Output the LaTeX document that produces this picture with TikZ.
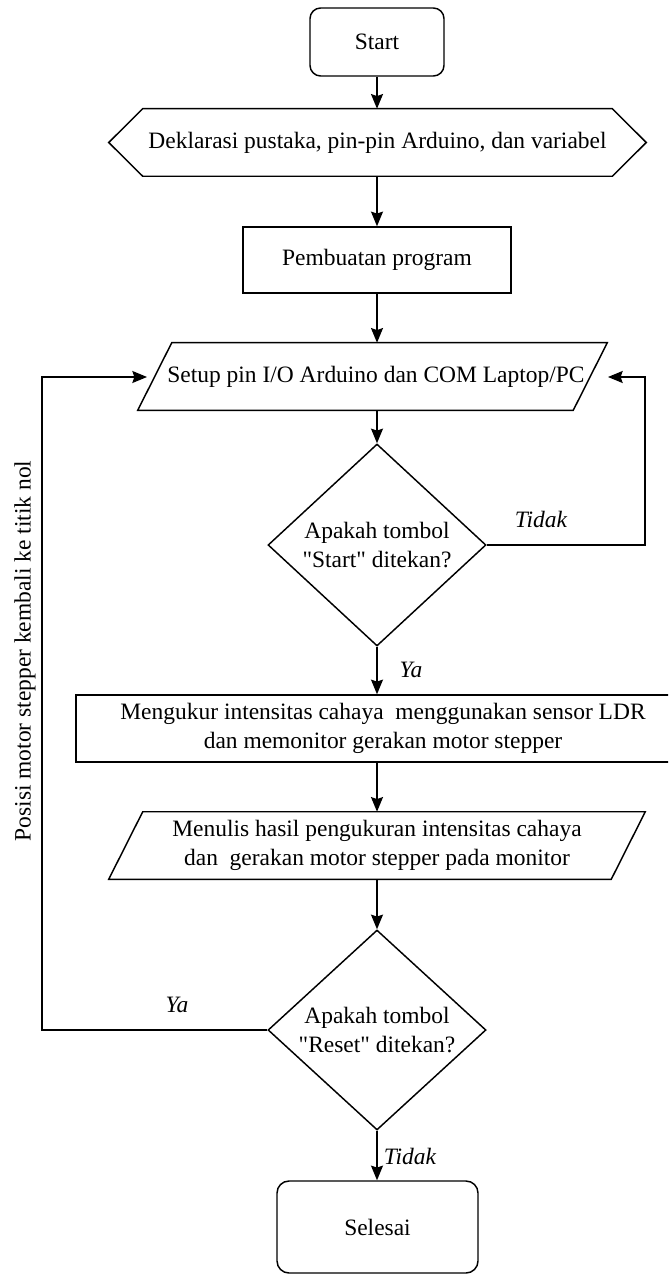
\documentclass[tikz,border=0pt]{standalone}
\usepackage{fontspec}
\setmainfont{Liberation Serif}
\usetikzlibrary{arrows.meta,calc,shapes.geometric}
\begin{document}
\begin{tikzpicture}[x=0.75pt,y=-0.75pt,
  every node/.style={font=\fontsize{17.6}{21.8}\selectfont, align=center, inner sep=0pt},
  arr/.style={line width=1.1pt, -{Stealth[length=11pt,width=9pt,inset=1.5pt]}},
  termbox/.style={draw, line width=1.1pt, rounded corners=8pt, rectangle},
  procbox/.style={draw, line width=1.1pt, rectangle},
  ghost/.style={rectangle},
  decbox/.style={draw, line width=1.1pt, diamond, minimum width=163.5pt},
  lbl/.style={font=\fontsize{17.6}{21.8}\selectfont\itshape}
]
\useasboundingbox (0,0) rectangle (668,1276);
\clip (0,0) rectangle (668,1276);

% Start
\node[termbox, minimum width=100.5pt, minimum height=51pt] (start) at (377,42) {Start};

% Declaration (hexagon)
\node[ghost, minimum width=402.75pt, minimum height=50.25pt] (decl) at (377.5,142.5) {Deklarasi pustaka, pin-pin Arduino, dan variabel};
\draw[line width=1.1pt] (decl.west) -- ([xshift=25.5pt]decl.north west) -- ([xshift=-25.5pt]decl.north east) -- (decl.east) -- ([xshift=-25.5pt]decl.south east) -- ([xshift=25.5pt]decl.south west) -- cycle;

% Pembuatan program
\node[procbox, minimum width=201pt, minimum height=49.5pt] (prog) at (377,260) {Pembuatan program};

% Setup (parallelogram)
\node[ghost, minimum width=351.75pt, minimum height=50.25pt] (setup) at (372.5,376.5) {};
\node (setuptxt) at (376,376.5) {Setup pin I/O Arduino dan COM Laptop/PC};
\draw[line width=1.1pt] ([xshift=25.5pt]setup.north west) -- (setup.north east) -- ([xshift=-25.5pt]setup.south east) -- (setup.south west) -- cycle;

% Decision 1
\node[decbox, minimum height=151.5pt] (d1) at (377,545) {};
\node (d1txt) at (377,545) {Apakah tombol\\\textquotedbl Start\textquotedbl{} ditekan?};

% Mengukur
\node[procbox, minimum width=460.5pt, minimum height=50.25pt] (meas) at (383,728.5) {Mengukur intensitas cahaya\ \ menggunakan sensor LDR\\dan memonitor gerakan motor stepper};

% Menulis (parallelogram)
\node[ghost, minimum width=402pt, minimum height=50.25pt] (write) at (377,845.5) {Menulis hasil pengukuran intensitas cahaya\\dan\ \ gerakan motor stepper pada monitor};
\draw[line width=1.1pt] ([xshift=25.5pt]write.north west) -- (write.north east) -- ([xshift=-25.5pt]write.south east) -- (write.south west) -- cycle;

% Decision 2
\node[decbox, minimum height=150pt] (d2) at (377,1030) {};
\node (d2txt) at (377,1030) {Apakah tombol\\\textquotedbl Reset\textquotedbl{} ditekan?};

% Selesai
\node[termbox, rounded corners=9pt, minimum width=150.75pt, minimum height=69pt] (end) at (377.5,1227) {Selesai};

% coordinates for loop ends
\coordinate (rin) at (608,377);
\coordinate (lin) at (147,377);
\coordinate (lcorner) at (42,1030);
\coordinate (rcorner) at (645,545);

% connectors
\draw[arr] (start.south) -- (start.south |- decl.north);
\draw[arr] (decl.south -| start.south) -- (start.south |- prog.north);
\draw[arr] (prog.south) -- (prog.south |- setup.north);
\draw[arr] (prog.south |- setup.south) -- (d1.north);
\draw[arr] (d1.south) -- (d1.south |- meas.north);
\draw[arr] (d1.south |- meas.south) -- (d1.south |- write.north);
\draw[arr] (d1.south |- write.south) -- (d2.north);
\draw[arr] (d2.south) -- (d2.south |- end.north);
\draw[arr] (d1.east) -- (rcorner) |- (rin);
\draw[arr] (d2.west) -- (lcorner) |- (lin);

% labels
\node[lbl] (l1) at (541,519) {Tidak};
\node[lbl] (l2) at (411,670) {Ya};
\node[lbl] (l3) at (177,1005) {Ya};
\node[lbl] (l4) at (410,1156) {Tidak};
\node[rotate=90] (side) at (25,651) {Posisi motor stepper kembali ke titik nol};
\end{tikzpicture}
\end{document}
